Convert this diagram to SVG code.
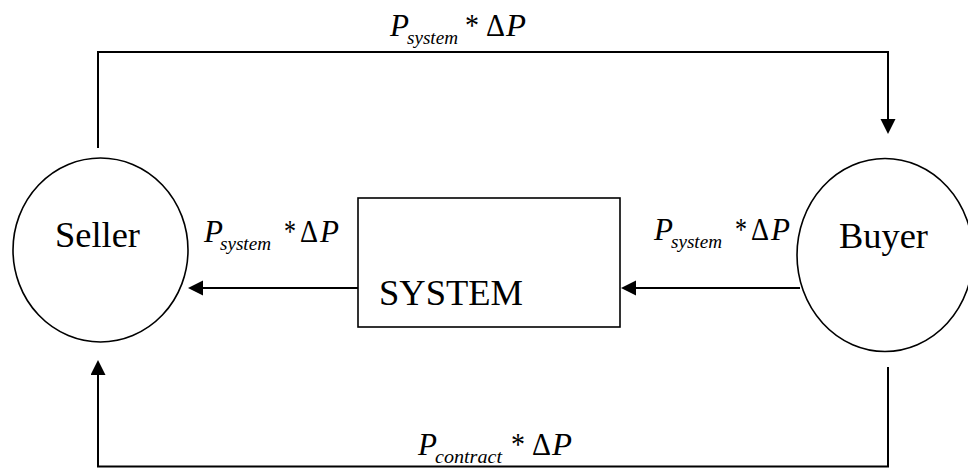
<svg xmlns="http://www.w3.org/2000/svg" width="968" height="468" viewBox="0 0 968 468">
  <style>
    .node { fill: #fff; stroke: #000; stroke-width: 1.6; }
    text { font-family: "Liberation Serif", "DejaVu Serif", "Times New Roman", serif; fill: #000; }
    .name { font-size: 36px; }
    .wire { fill: none; stroke: #000; stroke-width: 2; }
    .lbl { font-size: 32px; }
    .it { font-style: italic; }
    .sub { font-style: italic; font-size: 19.5px; }
  </style>
  <defs>
    <marker id="arrow" markerUnits="userSpaceOnUse" markerWidth="16" markerHeight="16" refX="12" refY="7.5" orient="auto">
      <path d="M0,0 L15,7.5 L0,15 Z" fill="#000"/>
    </marker>
  </defs>
  <rect width="968" height="468" fill="#fff"/>

  <!-- connectors -->
  <g id="connectors">
    <path class="wire" d="M98,148 V52 H888 V131" marker-end="url(#arrow)"/>
    <path class="wire" d="M888,367 V466.5 H98 V363" marker-end="url(#arrow)"/>
    <path class="wire" d="M358,288 H191" marker-end="url(#arrow)"/>
    <path class="wire" d="M800,288 H624" marker-end="url(#arrow)"/>
  </g>

  <!-- flow labels: P_sub * ΔP -->
  <g id="label-top">
    <text class="lbl it" x="390" y="36" textLength="19" lengthAdjust="spacingAndGlyphs">P</text>
    <text class="sub" x="407" y="44" textLength="51" lengthAdjust="spacingAndGlyphs">system</text>
    <text class="lbl" x="465" y="36" textLength="14" lengthAdjust="spacingAndGlyphs">*</text>
    <text class="lbl" x="486" y="36" textLength="19" lengthAdjust="spacingAndGlyphs">Δ</text>
    <text class="lbl it" x="506" y="36" textLength="20" lengthAdjust="spacingAndGlyphs">P</text>
  </g>
  <g id="label-left">
    <text class="lbl it" x="204" y="242" textLength="19" lengthAdjust="spacingAndGlyphs">P</text>
    <text class="sub" x="220" y="249.5" textLength="51" lengthAdjust="spacingAndGlyphs">system</text>
    <text class="lbl" x="284" y="242" textLength="12" lengthAdjust="spacingAndGlyphs">*</text>
    <text class="lbl" x="300" y="242" textLength="18" lengthAdjust="spacingAndGlyphs">Δ</text>
    <text class="lbl it" x="320" y="242" textLength="19" lengthAdjust="spacingAndGlyphs">P</text>
  </g>
  <g id="label-right">
    <text class="lbl it" x="654" y="240" textLength="19" lengthAdjust="spacingAndGlyphs">P</text>
    <text class="sub" x="671" y="247.5" textLength="51" lengthAdjust="spacingAndGlyphs">system</text>
    <text class="lbl" x="735" y="240" textLength="12" lengthAdjust="spacingAndGlyphs">*</text>
    <text class="lbl" x="751" y="240" textLength="18" lengthAdjust="spacingAndGlyphs">Δ</text>
    <text class="lbl it" x="771" y="240" textLength="19" lengthAdjust="spacingAndGlyphs">P</text>
  </g>
  <g id="label-bottom">
    <text class="lbl it" x="418" y="455" textLength="19" lengthAdjust="spacingAndGlyphs">P</text>
    <text class="sub" x="435" y="463" textLength="67" lengthAdjust="spacingAndGlyphs">contract</text>
    <text class="lbl" x="511" y="455" textLength="14" lengthAdjust="spacingAndGlyphs">*</text>
    <text class="lbl" x="532" y="455" textLength="19" lengthAdjust="spacingAndGlyphs">Δ</text>
    <text class="lbl it" x="552" y="455" textLength="20" lengthAdjust="spacingAndGlyphs">P</text>
  </g>

  <g id="seller">
    <ellipse class="node" cx="100.5" cy="250" rx="87.5" ry="92"/>
    <text class="name" x="55" y="247" textLength="85" lengthAdjust="spacingAndGlyphs">Seller</text>
  </g>

  <g id="system">
    <rect class="node" x="358" y="198" width="262" height="129"/>
    <text class="name" x="379" y="305" textLength="144" lengthAdjust="spacingAndGlyphs">SYSTEM</text>
  </g>

  <g id="buyer">
    <ellipse class="node" cx="885" cy="255" rx="88" ry="96.5"/>
    <text class="name" x="839" y="248" textLength="89" lengthAdjust="spacingAndGlyphs">Buyer</text>
  </g>
</svg>
